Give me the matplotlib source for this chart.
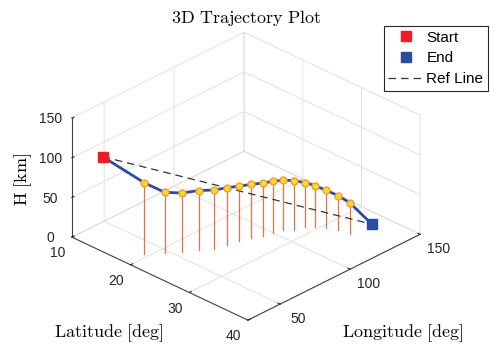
import numpy as np
import matplotlib
matplotlib.use("Agg")
import matplotlib.pyplot as plt
from matplotlib.transforms import ScaledTranslation

plt.rcParams["font.family"] = ["Liberation Sans", "DejaVu Sans"]
plt.rcParams["mathtext.fontset"] = "cm"

# trajectory samples: longitude [deg], latitude [deg], altitude [km]
lon = [39.6, 47.5, 54.0, 61.3, 67.4, 75.0, 81.9, 88.2, 94.0, 100.0,
       105.5, 109.6, 115.2, 118.9, 122.0, 124.4, 126.0]
lat = [19.3, 20.9, 22.3, 23.4, 24.5, 25.0, 25.4, 25.9, 26.5, 26.8,
       27.3, 28.1, 28.6, 29.5, 30.7, 32.1, 33.7]
alt = [90.0, 76.5, 74.8, 75.3, 74.4, 72.3, 69.7, 68.0, 66.8, 64.7,
       63.0, 61.8, 56.0, 52.2, 47.5, 43.8, 39.1]

start = (38.5, 12.5, 100.0)
end = (140.7, 34.0, 0.0)

lon_lim = (27, 150)
lat_lim = (40, 10)   # latitude runs towards the viewer
alt_lim = (0, 150)
lon_ticks = [50, 100, 150]
lat_ticks = [10, 20, 30, 40]
alt_ticks = [0, 50, 100, 150]

W, H = 490, 346
fig = plt.figure(figsize=(W / 100, H / 100), dpi=100)
ax = fig.add_axes([0.1, 0.1, 0.8, 0.8], projection="3d", proj_type="ortho")
ax.computed_zorder = False
ax.view_init(elev=29, azim=-135.8)
ax.set_box_aspect((1, 0.994, 0.551))

ax.set_xlim(*lon_lim)
ax.set_ylim(*lat_lim)
ax.set_zlim(*alt_lim)
ax.set_xticks(lon_ticks)
ax.set_yticks(lat_ticks)
ax.set_zticks(alt_ticks)

# stems down to the ground
for x, y, z in zip(lon, lat, alt):
    ax.plot([x, x], [y, y], [0, z], color="#E8704A", lw=0.9, zorder=1)

ref, = ax.plot([start[0], end[0]], [start[1], end[1]], [start[2], end[2]],
               ls=(0, (6, 4)), color="#333333", lw=0.9, zorder=2)

path_lon = [start[0]] + lon + [end[0]]
path_lat = [start[1]] + lat + [end[1]]
path_alt = [start[2]] + alt + [end[2]]
ax.plot(path_lon, path_lat, path_alt, color="#2D4BA6", lw=2, zorder=3)
ax.plot(lon, lat, alt, ls="none", marker="o", ms=5, mfc="#FFDC1E",
        mec="#F29A3E", mew=1, zorder=4)

st, = ax.plot([start[0]], [start[1]], [start[2]], ls="none", marker="s",
              ms=6.8, color="#EC1C24", zorder=5)
en, = ax.plot([end[0]], [end[1]], [end[2]], ls="none", marker="s",
              ms=6.8, color="#2A4C9F", zorder=5)

# matlab-ish box look
for axis in (ax.xaxis, ax.yaxis, ax.zaxis):
    axis.set_pane_color((1, 1, 1, 0))
    axis.pane.set_edgecolor("#DCDCDC")
    axis._axinfo["grid"]["color"] = "#DCDCDC"
    axis._axinfo["grid"]["linewidth"] = 0.6
    axis._axinfo["tick"]["inward_factor"] = 0.0
    axis._axinfo["tick"]["outward_factor"] = 0.15
    axis.line.set_color("#404040")
    axis.line.set_linewidth(0.8)
for a in ("x", "y", "z"):
    ax.tick_params(axis=a, labelsize=10, colors="#262626", pad=0)
ax.set_xlabel("")
ax.set_ylabel("")
ax.set_zlabel("")


# Axis3D resets label transforms on every get_major_ticks call,
# so wrap it to keep a small pixel nudge on the tick labels
def nudge_labels(axis, dx, dy):
    off = ScaledTranslation(dx / 100, dy / 100, fig.dpi_scale_trans)
    orig = axis.get_major_ticks

    def get_major_ticks(numticks=None):
        ticks = orig(numticks)
        for t in ticks:
            t.label1.set_transform(ax.transData + off)
        return ticks
    axis.get_major_ticks = get_major_ticks


nudge_labels(ax.xaxis, 8, 4)
nudge_labels(ax.yaxis, -4, 3)
nudge_labels(ax.zaxis, -1, 6)

# fit the axes so the box corners land where they should (pixel coords)
fig.canvas.draw()
M = ax.get_proj()
corners = [(27, 40, 0), (150, 10, 150), (27, 10, 0), (150, 40, 0), (27, 10, 150)]
targets = [(248, 320), (244, 32), (72, 238), (420, 234), (72, 118)]
bb = ax.get_position().transformed(fig.transFigure)
cx0, cy0, w0 = bb.x0 + bb.width / 2, bb.y0 + bb.height / 2, bb.width
rows, rhs = [], []
for p, t in zip(corners, targets):
    v = M @ np.array([p[0], p[1], p[2], 1.0])
    d = ax.transData.transform((v[0] / v[3], v[1] / v[3]))
    q = (d - (cx0, cy0)) / w0
    rows.append([1, 0, q[0]]); rhs.append(t[0])
    rows.append([0, 1, q[1]]); rhs.append(H - t[1])
cx, cy, w = np.linalg.lstsq(np.array(rows), np.array(rhs), rcond=None)[0]
ax.set_position([(cx - w / 2) / W, (cy - w / 2) / H, w / W, w / H])

fig.text(246 / W, 1 - 18 / H, r"$\mathrm{3D\ Trajectory\ Plot}$",
         ha="center", va="center", fontsize=13)
fig.text(23 / W, 1 - 179 / H, r"$\mathrm{H\ [km]}$", rotation=90,
         ha="center", va="center", fontsize=13)
fig.text(109 / W, 1 - 333 / H, r"$\mathrm{Latitude\ [deg]}$",
         ha="center", va="center", fontsize=13)
fig.text(403 / W, 1 - 333 / H, r"$\mathrm{Longitude\ [deg]}$",
         ha="center", va="center", fontsize=13)

leg = ax.legend([st, en, ref], ["Start", "End", "Ref Line"],
                loc="upper right", bbox_to_anchor=(488 / W, 1 - 26 / H),
                bbox_transform=fig.transFigure, borderaxespad=0,
                fontsize=11, fancybox=False, framealpha=1,
                edgecolor="#262626", borderpad=0.3, labelspacing=0.45,
                handlelength=2.3, handletextpad=0.2)
leg.get_frame().set_linewidth(0.8)

fig.savefig("out.png", dpi=100)
